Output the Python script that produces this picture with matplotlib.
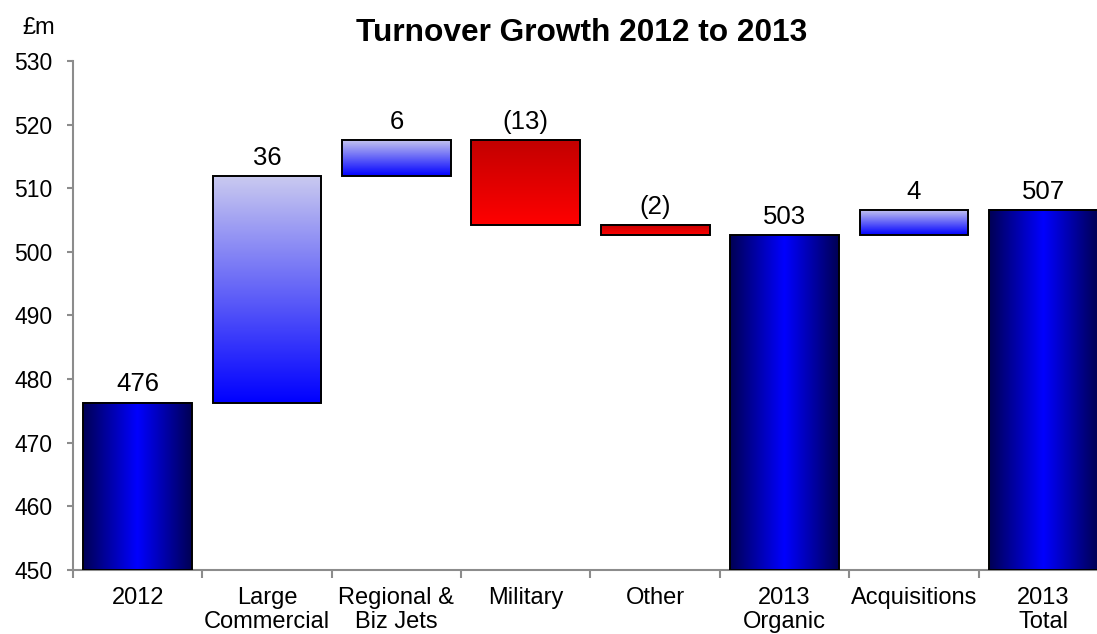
import matplotlib.pyplot as plt
import numpy as np
from matplotlib.colors import LinearSegmentedColormap

# turnover bridge, £m
categories = ["2012", "Large\nCommercial", "Regional &\nBiz Jets", "Military",
              "Other", "2013\nOrganic", "Acquisitions", "2013\nTotal"]
start_2012 = 476.3
organic_moves = [35.6, 5.7, -13.4, -1.6]
acquisitions = 4.0
y_ticks = [450, 460, 470, 480, 490, 500, 510, 520, 530]

plt.rcParams["font.family"] = ["Liberation Sans", "DejaVu Sans"]

total_cmap = LinearSegmentedColormap.from_list(
    "total", [(0, 0, 0.33), (0, 0, 1), (0, 0, 0.33)])
up_cmap = LinearSegmentedColormap.from_list(
    "up", [(0, 0, 1), (0.79, 0.79, 0.94)])
down_cmap = LinearSegmentedColormap.from_list(
    "down", [(1, 0, 0), (0.76, 0, 0)])


def fmt_value(v, signed):
    n = int(round(abs(v)))
    if signed and v < 0:
        return f"({n})"
    return f"{n}"


def build_bars():
    bars = []  # (bottom, top, kind, label)
    level = start_2012
    bars.append((450, level, "total", fmt_value(level, False)))
    for d in organic_moves:
        lo, hi = sorted([level, level + d])
        bars.append((lo, hi, "up" if d > 0 else "down", fmt_value(d, True)))
        level += d
    bars.append((450, level, "total", fmt_value(level, False)))
    bars.append((level, level + acquisitions, "up", fmt_value(acquisitions, True)))
    level += acquisitions
    bars.append((450, level, "total", fmt_value(level, False)))
    return bars


fig = plt.figure(figsize=(10.97, 6.34), dpi=100)
ax = fig.add_axes([73 / 1097, 64 / 634, 1035 / 1097, 509 / 634])

width = 0.84
x = np.arange(len(categories))
bars = build_bars()
for i, (lo, hi, kind, label) in enumerate(bars):
    x0, x1 = x[i] - width / 2, x[i] + width / 2
    if kind == "total":
        grad = np.linspace(0, 1, 256).reshape(1, -1)
        cmap = total_cmap
    else:
        grad = np.linspace(0, 1, 256).reshape(-1, 1)
        cmap = up_cmap if kind == "up" else down_cmap
    ax.imshow(grad, cmap=cmap, extent=(x0, x1, lo, hi), origin="lower",
              aspect="auto", interpolation="bicubic", zorder=2)
    ax.bar(x[i], hi - lo, bottom=lo, width=width, facecolor="none",
           edgecolor="black", linewidth=1.4, zorder=3)
    ax.annotate(label, (x[i], hi), xytext=(0, 4.5), textcoords="offset points",
                ha="center", va="bottom", fontsize=18.5, zorder=4)

ax.set_xlim(-0.5, len(categories) - 0.5)
ax.set_ylim(450, 530)
ax.set_yticks(y_ticks)
ax.set_xticks(x)
ax.set_xticklabels(categories, fontsize=17, linespacing=1.15)
ax.set_xticks(np.arange(len(categories) + 1) - 0.5, minor=True)
ax.tick_params(axis="x", which="major", length=0, pad=12)
ax.tick_params(axis="x", which="minor", length=6, width=1.5, color="#8c8c8c")
ax.tick_params(axis="y", length=4, width=1.5, color="#8c8c8c",
               labelsize=16.5, pad=11)

for side in ("top", "right"):
    ax.spines[side].set_visible(False)
for side in ("left", "bottom"):
    ax.spines[side].set_color("#8c8c8c")
    ax.spines[side].set_linewidth(1.5)
    ax.spines[side].set_zorder(1)

fig.text(582 / 1097, 1 - 33 / 634, "Turnover Growth 2012 to 2013",
         ha="center", va="center", fontsize=22.8, fontweight="bold")
fig.text(38.5 / 1097, 1 - 28 / 634, "£m", ha="center", va="center", fontsize=17)

fig.savefig("out.png", dpi=100)
